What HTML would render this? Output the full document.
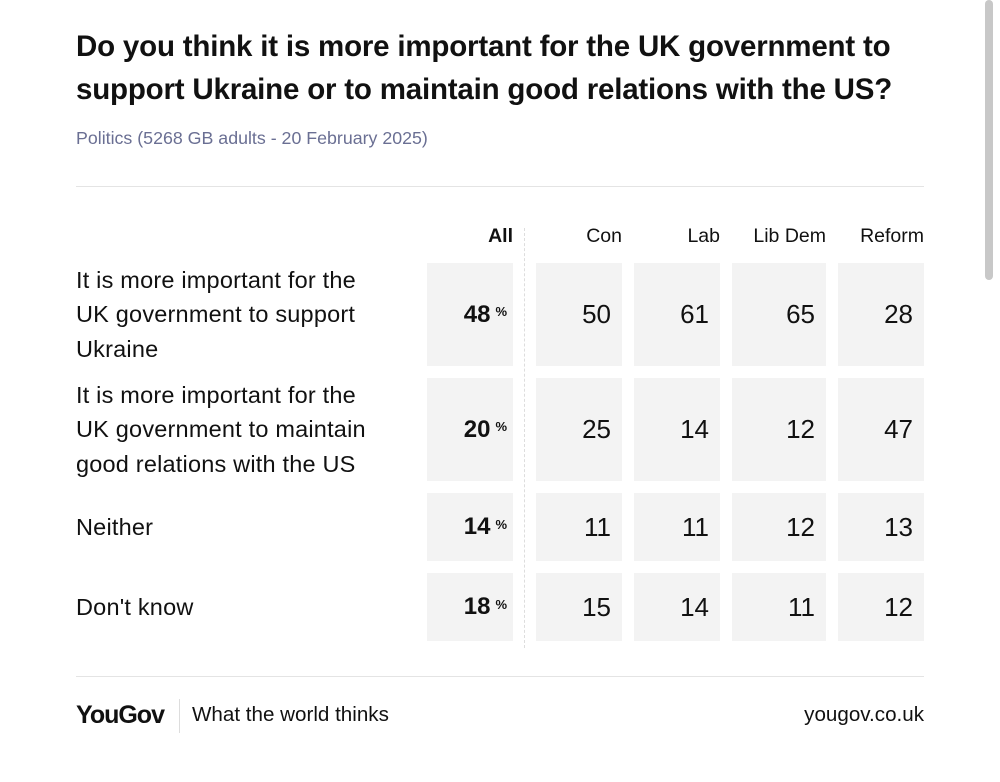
<!DOCTYPE html>
<html><head><meta charset="utf-8"><style>
body{margin:0;width:1000px;height:782px;background:#fff;font-family:"Liberation Sans",sans-serif;color:#111;position:relative;overflow:hidden}
.a{position:absolute}
.title{left:76px;top:25px;font-size:29.5px;font-weight:bold;line-height:43px;letter-spacing:-0.2px}
.sub{left:76px;top:128px;font-size:17.8px;color:#6a6f93}
.hr{height:1px;background:#e4e4e4;left:76px;width:848px}
.hd{font-size:19.5px;top:225px;text-align:right}
.lbl{left:76px;font-size:23.5px;line-height:34.5px;width:340px;letter-spacing:0.2px}
.cell{background:#f3f3f3;display:flex;align-items:center;justify-content:flex-end;font-size:26px;box-sizing:border-box;padding-right:11px}
.all{font-weight:bold;font-size:24px;padding-right:6px}
.all span{font-size:13px;font-weight:bold;margin-left:5px;position:relative;top:-3px}
</style></head><body>
<div class="a title">Do you think it is more important for the UK government to<br>support Ukraine or to maintain good relations with the US?</div>
<div class="a sub">Politics (5268 GB adults - 20 February 2025)</div>
<div class="a hr" style="top:186px"></div>
<div class="a" style="left:524px;top:228px;height:420px;border-left:1px dashed #ddd"></div>
<div id="grid"></div>
<div class="a hr" style="top:676px"></div>
<div class="a" style="left:76px;top:701px;font-size:25px;font-weight:bold;letter-spacing:-1px">YouGov</div>
<div class="a" style="left:179px;top:699px;height:34px;border-left:1px solid #ddd"></div>
<div class="a" style="left:192px;top:703px;font-size:20.6px">What the world thinks</div>
<div class="a" style="right:76px;top:703px;font-size:20.6px">yougov.co.uk</div>
<div class="a" style="left:985px;top:0;width:8px;height:280px;background:#c8c8c8;border-radius:4px"></div>
<script>
const columns=["All","Con","Lab","Lib Dem","Reform"];
const rowLabels=["It is more important for the UK government to support Ukraine","It is more important for the UK government to maintain good relations with the US","Neither","Don't know"];
const allValues=[48,20,14,18];
const conValues=[50,25,11,15];
const labValues=[61,14,11,14];
const libDemValues=[65,12,12,11];
const reformValues=[28,47,13,12];
const series=[allValues,conValues,labValues,libDemValues,reformValues];
const colX=[[427,86],[536,86],[634,86],[732,94],[838,86]];
const rowY=[[263,103],[378,103],[493,68],[573,68]];
const g=document.getElementById('grid');
columns.forEach((c,i)=>{
  const h=document.createElement('div');
  h.className='a hd';
  h.style.left=colX[i][0]+'px';h.style.width=colX[i][1]+'px';
  if(i==0){h.style.fontWeight='bold';}
  h.textContent=c;
  
  
  g.appendChild(h);
});
rowLabels.forEach((r,j)=>{
  const l=document.createElement('div');
  l.className='a lbl';
  const lines=j<2?3:1;
  l.style.top=(rowY[j][0]+rowY[j][1]/2-lines*34.5/2)+'px';
  l.textContent=r;
  if(j<2){l.style.width='300px';}
  
  
  g.appendChild(l);
  series.forEach((s,i)=>{
    const c=document.createElement('div');
    c.className='a cell'+(i==0?' all':'');
    c.style.left=colX[i][0]+'px';c.style.width=colX[i][1]+'px';
    c.style.top=rowY[j][0]+'px';c.style.height=rowY[j][1]+'px';
    if(i==0){c.innerHTML=s[j]+'<span>%</span>';}else{c.textContent=s[j];}
    
    
    g.appendChild(c);
  });
});
</script>
</body></html>
